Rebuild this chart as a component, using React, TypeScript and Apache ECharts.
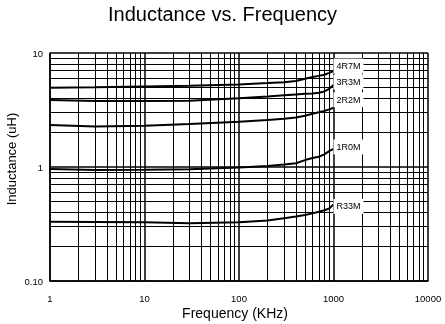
import React, { useEffect, useRef } from "react";
import * as echarts from "echarts";

const titleText = "Inductance vs. Frequency";
const xAxisName = "Frequency (KHz)";
const yAxisName = "Inductance (uH)";

const frequencies = [1, 3, 10, 30, 100, 200, 300, 400, 500, 600, 700, 800, 900, 1000];
const seriesNames = ["4R7M", "3R3M", "2R2M", "1R0M", "R33M"];
const l4R7M = [4.95, 5.0, 5.08, 5.16, 5.3, 5.45, 5.55, 5.68, 5.95, 6.15, 6.3, 6.45, 6.7, 6.95];
const l3R3M = [3.87, 3.8, 3.8, 3.82, 4.0, 4.15, 4.26, 4.33, 4.38, 4.42, 4.48, 4.6, 4.85, 5.24];
const l2R2M = [2.34, 2.27, 2.3, 2.38, 2.5, 2.58, 2.65, 2.72, 2.82, 2.93, 3.02, 3.1, 3.2, 3.31];
const l1R0M = [0.96, 0.94, 0.945, 0.955, 0.99, 1.02, 1.05, 1.08, 1.15, 1.2, 1.23, 1.29, 1.38, 1.44];
const lR33M = [0.331, 0.33, 0.327, 0.321, 0.328, 0.34, 0.356, 0.368, 0.38, 0.392, 0.405, 0.418, 0.433, 0.47];
const seriesValues = [l4R7M, l3R3M, l2R2M, l1R0M, lR33M];
const labelOffsets = [[0, -5], [0, -3], [0, -8], [0, -2], [0, 2]];

const xTickValues = [1, 10, 100, 1000, 10000];
const xTickLabels = ["1", "10", "100", "1000", "10000"];
const yTickValues = [0.1, 1, 10];
const yTickLabels = ["0.10", "1", "10"];
const xDecades = [1, 10, 100, 1000];
const yDecades = [0.1, 1];
const minorSteps = [2, 3, 4, 5, 6, 7, 8, 9];

const FONT = "'Liberation Sans', Arial, sans-serif";

function tickLabel(values: number[], labels: string[]) {
  return (v: number) => {
    for (let i = 0; i < values.length; i++) {
      if (Math.abs(Math.log10(v) - Math.log10(values[i])) < 1e-6) return labels[i];
    }
    return "";
  };
}

export default function App() {
  const ref = useRef<HTMLDivElement>(null);
  useEffect(() => {
    if (!ref.current) return;
    const chart = echarts.init(ref.current, null, { renderer: "svg" });
    const minorLines: any[] = [];
    xDecades.forEach((d) => minorSteps.forEach((k) => minorLines.push({ xAxis: d * k })));
    yDecades.forEach((d) => minorSteps.forEach((k) => minorLines.push({ yAxis: d * k })));

    const series: any[] = seriesNames.map((name, i) => ({
      name,
      type: "line",
      data: frequencies.map((f, j) => [f, seriesValues[i][j]]),
      showSymbol: false,
      symbol: "none",
      z: 3,
      lineStyle: { color: "#000", width: 2 },
      endLabel: {
        show: true,
        formatter: name,
        color: "#000",
        fontSize: 9,
        fontFamily: FONT,
        backgroundColor: "#fff",
        padding: [3, 3],
        distance: 0,
        offset: labelOffsets[i],
      },
      emphasis: { disabled: true },
    }));
    series.push({
      type: "line",
      data: [],
      z: 1,
      silent: true,
      markLine: {
        z: 1,
        silent: true,
        symbol: ["none", "none"],
        label: { show: false },
        emphasis: { disabled: true },
        animation: false,
        lineStyle: { color: "#000", width: 1, type: "solid" },
        data: minorLines,
      },
    });

    chart.setOption({
      animation: false,
      title: {
        text: titleText,
        left: "center",
        top: -1,
        textStyle: { fontFamily: FONT, fontSize: 20, fontWeight: "normal", color: "#000" },
      },
      grid: { left: 50, right: 17, top: 53, bottom: 43 },
      xAxis: {
        type: "log",
        logBase: 10,
        min: 1,
        max: 10000,
        axisLine: { lineStyle: { color: "#000", width: 1.5 } },
        axisTick: { show: false },
        splitLine: { show: true, lineStyle: { color: "#000", width: 1.5 } },
        axisLabel: {
          color: "#000",
          fontSize: 9.5,
          fontFamily: FONT,
          margin: 12,
          formatter: tickLabel(xTickValues, xTickLabels),
        },
      },
      yAxis: {
        type: "log",
        logBase: 10,
        min: 0.1,
        max: 10,
        axisLine: { show: true, lineStyle: { color: "#000", width: 1.5 } },
        axisTick: { show: false },
        splitLine: { show: true, lineStyle: { color: "#000", width: 1.5 } },
        axisLabel: {
          color: "#000",
          fontSize: 9.5,
          fontFamily: FONT,
          margin: 7,
          formatter: tickLabel(yTickValues, yTickLabels),
        },
      },
      graphic: [
        {
          type: "text",
          x: 235,
          y: 313,
          style: { text: xAxisName, fontSize: 14, fontFamily: FONT, fill: "#000", align: "center", verticalAlign: "middle" },
        },
        {
          type: "text",
          x: 11,
          y: 159,
          rotation: Math.PI / 2,
          style: { text: yAxisName, fontSize: 13, fontFamily: FONT, fill: "#000", align: "center", verticalAlign: "middle" },
        },
      ],
      series,
    });
    return () => chart.dispose();
  }, []);
  return <div ref={ref} style={{ position: "fixed", left: 0, top: 0, width: 445, height: 324 }} />;
}
